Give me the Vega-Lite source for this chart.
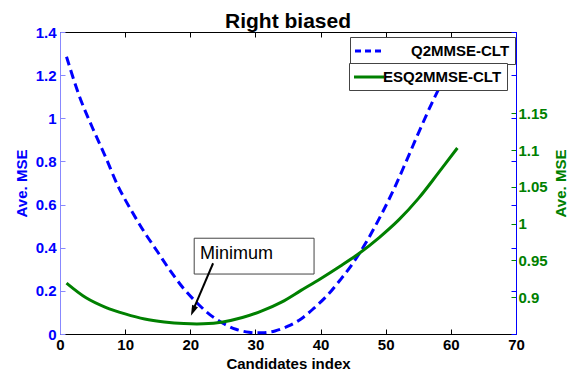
{
  "$schema": "https://vega.github.io/schema/vega-lite/v6.json",
  "width": 456,
  "height": 302,
  "autosize": {"type": "none"},
  "padding": {"left": 60, "top": 32, "right": 52, "bottom": 39},
  "background": "white",
  "config": {
    "view": {"stroke": null},
    "font": "Liberation Sans",
    "axis": {"grid": false, "labelFont": "Liberation Sans", "titleFont": "Liberation Sans", "labelFontWeight": "bold", "titleFontWeight": "bold", "labelFontSize": 15, "titleFontSize": 15},
    "legend": {"labelFont": "Liberation Sans"}
  },
  "title": {"text": "Right biased", "fontSize": 21, "fontWeight": "bold", "font": "Liberation Sans", "color": "black", "offset": -7},
  "datasets": {
    "q2": [
      {"x": 1, "mse": 1.285}, {"x": 3, "mse": 1.10}, {"x": 5, "mse": 0.955}, {"x": 7, "mse": 0.82},
      {"x": 9, "mse": 0.68}, {"x": 11, "mse": 0.57}, {"x": 13, "mse": 0.47}, {"x": 15, "mse": 0.38},
      {"x": 17, "mse": 0.29}, {"x": 19, "mse": 0.21}, {"x": 21, "mse": 0.145}, {"x": 23, "mse": 0.09},
      {"x": 25, "mse": 0.05}, {"x": 27, "mse": 0.022}, {"x": 29, "mse": 0.008}, {"x": 31, "mse": 0.006},
      {"x": 33, "mse": 0.014}, {"x": 35, "mse": 0.036}, {"x": 37, "mse": 0.07}, {"x": 39, "mse": 0.12},
      {"x": 41, "mse": 0.178}, {"x": 43, "mse": 0.25}, {"x": 45, "mse": 0.33}, {"x": 47, "mse": 0.425},
      {"x": 49, "mse": 0.535}, {"x": 51, "mse": 0.655}, {"x": 53, "mse": 0.79}, {"x": 55, "mse": 0.93},
      {"x": 57, "mse": 1.065}, {"x": 59, "mse": 1.19}, {"x": 61, "mse": 1.32}
    ],
    "esq": [
      {"x": 1, "mse": 0.919}, {"x": 4, "mse": 0.899}, {"x": 7, "mse": 0.886}, {"x": 10, "mse": 0.877},
      {"x": 13, "mse": 0.870}, {"x": 16, "mse": 0.866}, {"x": 19, "mse": 0.8638}, {"x": 22, "mse": 0.8635},
      {"x": 25, "mse": 0.866}, {"x": 28, "mse": 0.872}, {"x": 31, "mse": 0.881}, {"x": 34, "mse": 0.893},
      {"x": 37, "mse": 0.909}, {"x": 40, "mse": 0.925}, {"x": 43, "mse": 0.942}, {"x": 46, "mse": 0.960},
      {"x": 49, "mse": 0.981}, {"x": 52, "mse": 1.005}, {"x": 55, "mse": 1.034}, {"x": 58, "mse": 1.068},
      {"x": 61, "mse": 1.103}
    ],
    "box": [{"x": 20.6, "x2": 39.0, "y": 0.444, "y2": 0.278}],
    "label": [{"x": 21.5, "y": 0.346, "text": "Minimum"}],
    "arrow": [{"x": 23.5, "y": 0.328, "x2": 20.5, "y2": 0.115}],
    "head": [{"x": 20.52, "y": 0.115}]
  },
  "layer": [
    {
      "data": {"name": "q2"},
      "mark": {"type": "line", "strokeWidth": 3, "strokeDash": [9, 5], "interpolate": "catmull-rom"},
      "encoding": {
        "x": {"field": "x", "type": "quantitative", "scale": {"domain": [0, 70], "nice": false, "zero": false},
          "axis": {"orient": "bottom", "values": [0, 10, 20, 30, 40, 50, 60, 70], "title": "Candidates index", "titleColor": "black", "labelColor": "black", "domainColor": "black", "tickColor": "black", "tickSize": -5, "labelPadding": 8, "titlePadding": 4, "labelFlush": false}},
        "y": {"field": "mse", "type": "quantitative", "scale": {"domain": [0, 1.4], "nice": false, "zero": false},
          "axis": {"orient": "left", "values": [0, 0.2, 0.4, 0.6, 0.8, 1, 1.2, 1.4], "format": "~g", "title": "Ave. MSE", "titleColor": "#0000ff", "labelColor": "#0000ff", "domainColor": "#8888ff", "tickColor": "#8888ff", "tickSize": -5, "labelPadding": 9, "titlePadding": 6, "labelFlush": false}},
        "color": {"datum": "Q2MMSE-CLT", "type": "nominal", "scale": {"range": ["#0000ff"]},
          "legend": {"orient": "none", "legendX": 290, "legendY": 5, "title": null, "symbolType": "M-2,0L2,0", "symbolDash": [6, 4], "symbolStrokeWidth": 3, "symbolSize": 225, "symbolOffset": 6, "labelFontSize": 15, "labelFontWeight": "bold", "labelColor": "black", "strokeColor": "#444", "fillColor": "white", "padding": 5, "labelOffset": 32}}
      }
    },
    {
      "data": {"name": "esq"},
      "mark": {"type": "line", "strokeWidth": 3, "interpolate": "catmull-rom"},
      "encoding": {
        "x": {"field": "x", "type": "quantitative", "scale": {"domain": [0, 70], "nice": false, "zero": false},
          "axis": {"orient": "top", "values": [0, 10, 20, 30, 40, 50, 60, 70], "labels": false, "title": null, "domainColor": "black", "tickColor": "black", "tickSize": -5}},
        "y": {"field": "mse", "type": "quantitative", "scale": {"domain": [0.8496, 1.261], "nice": false, "zero": false},
          "axis": {"orient": "right", "values": [0.9, 0.95, 1, 1.05, 1.1, 1.15], "format": "~g", "title": "Ave. MSE", "titleAngle": 270, "titleColor": "#008000", "labelColor": "#008000", "domainColor": "#0000ff", "tickColor": "#008000", "tickSize": -5, "labelPadding": 7, "titlePadding": 21, "labelFlush": false}},
        "color": {"datum": "ESQ2MMSE-CLT", "type": "nominal", "scale": {"range": ["#008000"]},
          "legend": {"orient": "none", "legendX": 289, "legendY": 31, "title": null, "symbolType": "M-2,0L2,0", "symbolStrokeWidth": 3, "symbolSize": 225, "symbolOffset": 6, "labelFontSize": 15, "labelFontWeight": "bold", "labelColor": "black", "strokeColor": "#444", "fillColor": "white", "padding": 5, "labelOffset": 5}}
      }
    },
    {
      "encoding": {
        "x": {"type": "quantitative", "scale": {"domain": [0, 70], "nice": false, "zero": false}, "axis": null},
        "y": {"type": "quantitative", "scale": {"domain": [0, 1.4], "nice": false, "zero": false},
          "axis": {"orient": "right", "values": [0, 0.2, 0.4, 0.6, 0.8, 1, 1.2, 1.4], "labels": false, "domain": false, "title": null, "tickColor": "#0000ff", "tickSize": -5}}
      },
      "layer": [
        {
          "data": {"name": "box"},
          "mark": {"type": "rect", "fill": "white", "stroke": "#444", "strokeWidth": 1},
          "encoding": {"x": {"field": "x", "type": "quantitative"}, "x2": {"field": "x2"}, "y": {"field": "y", "type": "quantitative"}, "y2": {"field": "y2"}}
        },
        {
          "data": {"name": "label"},
          "mark": {"type": "text", "align": "left", "baseline": "alphabetic", "fontSize": 18, "font": "Liberation Sans", "color": "black"},
          "encoding": {"x": {"field": "x", "type": "quantitative"}, "y": {"field": "y", "type": "quantitative"}, "text": {"field": "text"}}
        },
        {
          "data": {"name": "arrow"},
          "mark": {"type": "rule", "strokeWidth": 2, "color": "black"},
          "encoding": {"x": {"field": "x", "type": "quantitative"}, "x2": {"field": "x2"}, "y": {"field": "y", "type": "quantitative"}, "y2": {"field": "y2"}}
        },
        {
          "data": {"name": "head"},
          "mark": {"type": "point", "shape": "M0,-1L0.45,0.5L-0.45,0.5Z", "filled": true, "color": "black", "opacity": 1, "size": 200, "angle": 203},
          "encoding": {"x": {"field": "x", "type": "quantitative"}, "y": {"field": "y", "type": "quantitative"}}
        }
      ]
    }
  ],
  "resolve": {"scale": {"x": "independent", "y": "independent", "color": "independent"}}
}
